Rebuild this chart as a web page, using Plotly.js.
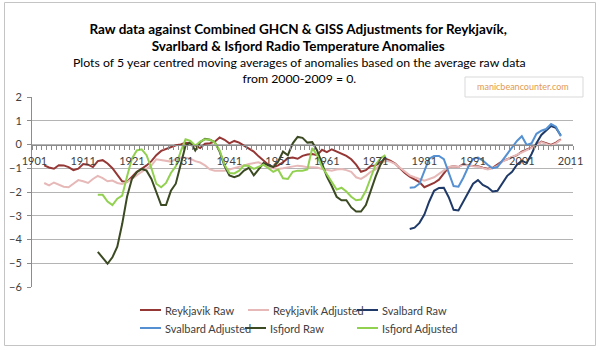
<!DOCTYPE html>
<html>
<head>
<meta charset="utf-8">
<script src="https://cdn.plot.ly/plotly-3.0.1.min.js"></script>
<style>html,body{margin:0;padding:0;background:#fff}#chart{width:600px;height:350px}</style>
</head>
<body>
<div id="chart"></div>
<script>
const years = [1901,1902,1903,1904,1905,1906,1907,1908,1909,1910,
1911,1912,1913,1914,1915,1916,1917,1918,1919,1920,
1921,1922,1923,1924,1925,1926,1927,1928,1929,1930,
1931,1932,1933,1934,1935,1936,1937,1938,1939,1940,
1941,1942,1943,1944,1945,1946,1947,1948,1949,1950,
1951,1952,1953,1954,1955,1956,1957,1958,1959,1960,
1961,1962,1963,1964,1965,1966,1967,1968,1969,1970,
1971,1972,1973,1974,1975,1976,1977,1978,1979,1980,
1981,1982,1983,1984,1985,1986,1987,1988,1989,1990,
1991,1992,1993,1994,1995,1996,1997,1998,1999,2000,
2001,2002,2003,2004,2005,2006,2007,2008,2009,2010,
2011];

const reykjavikRaw = [null,null,-0.88,-0.97,-1.02,-0.87,-0.88,-0.95,-1.08,-1.02,
-0.82,-0.85,-0.95,-0.70,-0.66,-0.80,-1.00,-1.30,-1.55,-1.58,
-1.38,-1.15,-1.02,-0.88,-0.70,-0.45,-0.27,-0.20,-0.12,-0.03,
0.00,0.07,0.05,-0.05,-0.15,0.03,0.05,0.12,0.30,0.20,
0.05,0.15,0.08,-0.05,-0.18,-0.30,-0.50,-0.68,-0.85,-0.95,
-0.88,-0.75,-0.58,-0.55,-0.60,-0.48,-0.42,-0.40,-0.45,-0.22,
-0.32,-0.20,-0.30,-0.40,-0.48,-0.62,-0.85,-1.15,-1.08,-0.90,
-0.88,-0.75,-0.60,-0.68,-0.80,-1.00,-1.20,-1.35,-1.45,-1.58,
-1.80,-1.72,-1.62,-1.48,-1.22,-0.95,-0.92,-0.95,-0.82,-0.88,
-0.90,-0.92,-0.98,-1.02,-0.98,-0.85,-0.70,-0.62,-0.55,-0.45,
-0.30,-0.22,-0.12,-0.02,0.12,0.05,-0.02,0.08,0.22,null,
null];

const reykjavikAdjusted = [null,null,-1.62,-1.72,-1.60,-1.68,-1.78,-1.80,-1.66,-1.50,
-1.55,-1.62,-1.45,-1.32,-1.42,-1.55,-1.52,-1.62,-1.66,-1.58,
-1.45,-1.28,-1.15,-1.02,-0.88,-0.62,-0.65,-0.70,-0.72,-0.62,
-0.55,-0.56,-0.60,-0.70,-0.76,-0.88,-1.05,-1.10,-1.10,-1.10,
-1.05,-1.00,-0.96,-0.88,-0.82,-0.78,-0.75,-0.85,-0.96,-1.00,
-1.03,-1.00,-0.96,-0.92,-0.89,-0.92,-0.96,-0.96,-0.97,-1.03,
-1.06,-1.10,-1.05,-1.03,-1.08,-1.15,-1.38,-1.45,-1.32,-1.15,
-1.05,-0.82,-0.68,-0.72,-0.82,-0.98,-1.15,-1.30,-1.38,-1.45,
-1.52,-1.45,-1.38,-1.24,-1.08,-0.95,-0.92,-0.95,-0.85,-0.90,
-0.92,-0.94,-1.00,-1.05,-1.00,-0.90,-0.72,-0.62,-0.55,-0.45,
-0.32,-0.25,-0.15,-0.05,0.10,0.02,-0.05,0.05,0.20,null,
null];

const svalbardRaw = [null,null,null,null,null,null,null,null,null,null,
null,null,null,null,null,null,null,null,null,null,
null,null,null,null,null,null,null,null,null,null,
null,null,null,null,null,null,null,null,null,null,
null,null,null,null,null,null,null,null,null,null,
null,null,null,null,null,null,null,null,null,null,
null,null,null,null,null,null,null,null,null,null,
null,null,null,null,null,null,null,-3.56,-3.50,-3.30,
-2.95,-2.40,-1.95,-1.83,-1.82,-2.22,-2.75,-2.78,-2.40,-2.05,
-1.65,-1.50,-1.70,-1.80,-1.98,-1.95,-1.62,-1.32,-1.15,-0.85,
-0.68,-0.78,-0.40,0.05,0.40,0.60,0.78,0.70,0.38,null,
null];

const svalbardAdjusted = [null,null,null,null,null,null,null,null,null,null,
null,null,null,null,null,null,null,null,null,null,
null,null,null,null,null,null,null,null,null,null,
null,null,null,null,null,null,null,null,null,null,
null,null,null,null,null,null,null,null,null,null,
null,null,null,null,null,null,null,null,null,null,
null,null,null,null,null,null,null,null,null,null,
null,null,null,null,null,null,null,-1.82,-1.80,-1.65,
-1.15,-0.60,-0.48,-0.48,-0.62,-1.20,-1.75,-1.78,-1.40,-0.95,
-0.60,-0.55,-0.68,-0.85,-1.00,-0.95,-0.68,-0.38,-0.10,0.15,
0.35,-0.02,0.05,0.45,0.58,0.65,0.86,0.75,0.35,null,
null];

const isfjordRaw = [null,null,null,null,null,null,null,null,null,null,
null,null,null,-4.52,-4.75,-5.02,-4.75,-4.30,-3.35,-2.20,
-1.45,-1.17,-1.03,-1.10,-1.45,-2.00,-2.55,-2.55,-1.95,-1.65,
-0.80,-0.05,0.10,-0.25,0.10,0.24,0.20,0.10,-0.30,-0.90,
-1.30,-1.38,-1.30,-1.10,-0.98,-1.30,-1.05,-0.78,-0.88,-0.95,
-0.72,-0.30,-0.45,0.05,0.32,0.28,0.08,0.10,-0.25,-0.80,
-1.35,-1.75,-2.20,-2.35,-2.35,-2.65,-2.82,-2.82,-2.55,-1.95,
-1.35,-0.85,-0.50,null,null,null,null,null,null,null,
null,null,null,null,null,null,null,null,null,null,
null,null,null,null,null,null,null,null,null,null,
null,null,null,null,null,null,null,null,null,null,
null];

const isfjordAdjusted = [null,null,null,null,null,null,null,null,null,null,
null,null,null,-2.12,-2.12,-2.40,-2.55,-2.28,-2.15,-1.35,
-0.60,-0.25,-0.20,-0.45,-1.00,-1.65,-1.80,-1.62,-1.20,-0.92,
-0.30,0.22,0.15,-0.05,0.12,0.22,0.20,0.08,-0.25,-0.85,
-1.20,-1.22,-1.10,-0.88,-0.90,-1.03,-0.95,-0.85,-1.00,-1.15,
-1.05,-1.42,-1.45,-1.15,-1.10,-1.10,-1.05,-0.15,-0.45,-0.95,
-1.25,-1.55,-1.90,-1.82,-1.98,-2.20,-2.35,-2.32,-1.95,-1.40,
-0.85,-0.58,-0.45,null,null,null,null,null,null,null,
null,null,null,null,null,null,null,null,null,null,
null,null,null,null,null,null,null,null,null,null,
null,null,null,null,null,null,null,null,null,null,
null];

const seriesNames = ["Reykjavik Raw","Reykjavik Adjusted","Svalbard Raw","Svalbard Adjusted","Isfjord Raw","Isfjord Adjusted"];
const seriesValues = [reykjavikRaw, reykjavikAdjusted, svalbardRaw, svalbardAdjusted, isfjordRaw, isfjordAdjusted];
const seriesColors = ["#953735","#E6B9B8","#1F3A68","#5591D2","#3B4A22","#92D050"];

const xTickVals = [1901,1911,1921,1931,1941,1951,1961,1971,1981,1991,2001,2011];
const xTickText = ["1901","1911","1921","1931","1941","1951","1961","1971","1981","1991","2001","2011"];

const FONT = "Lato, 'Open Sans', sans-serif";

const traces = seriesValues.map((v, i) => ({
  type: "scatter", mode: "lines", name: seriesNames[i],
  x: years, y: v, connectgaps: false,
  line: {color: seriesColors[i], width: 2},
  showlegend: false, hoverinfo: "skip"
}));

// pixel -> paper helpers for decorations (plot area 32..573 x 97..287)
const PX = p => (p - 32) / 541;
const PY = p => (287 - p) / 190;

const shapes = [];
const annotations = [];

// outer border
shapes.push({type:"rect", xref:"paper", yref:"paper", x0:PX(4.5), x1:PX(595.5), y0:PY(345.5), y1:PY(2.5),
  line:{color:"#c4c4c4", width:1}, fillcolor:"rgba(0,0,0,0)", layer:"below"});

// watermark box
shapes.push({type:"rect", xref:"paper", yref:"paper", x0:PX(465), x1:PX(583), y0:PY(97), y1:PY(77),
  line:{color:"#d9d9d9", width:1}, fillcolor:"#ffffff", layer:"above"});
annotations.push({xref:"paper", yref:"paper", x:PX(475), y:PY(86.5), xanchor:"left", yanchor:"middle",
  text:"manicbeancounter.com", showarrow:false, font:{family:FONT, size:9, color:"#E39A4E"}});

// subtitle
annotations.push({xref:"paper", yref:"paper", x:PX(299), y:PY(70.5), xanchor:"center", yanchor:"middle",
  text:"Plots of 5 year centred moving averages of anomalies based on the average raw data<br>from 2000-2009 = 0.",
  showarrow:false, font:{family:FONT, size:12.3, color:"#000"}});

// legend (manual)
const legendPos = [[140,310],[248,310],[357,310],[140,328],[245,328],[357,328]];
seriesNames.forEach((n, i) => {
  const [lx, ly] = legendPos[i];
  shapes.push({type:"line", xref:"paper", yref:"paper", x0:PX(lx), x1:PX(lx+21), y0:PY(ly), y1:PY(ly),
    line:{color:seriesColors[i], width:2}});
  annotations.push({xref:"paper", yref:"paper", x:PX(lx+23), y:PY(ly), xanchor:"left", yanchor:"middle",
    text:n, showarrow:false, font:{family:FONT, size:11, color:"#404040"}});
});

const layout = {
  width:600, height:350,
  margin:{l:32, r:27, t:97, b:63},
  paper_bgcolor:"#fff", plot_bgcolor:"#fff",
  font:{family:FONT, size:11, color:"#404040"},
  title:{
    text:"<b>Raw data against Combined GHCN &amp; GISS Adjustments for Reykjavík,<br>Svarlbard &amp; Isfjord Radio Temperature Anomalies</b>",
    font:{family:FONT, size:13.5, color:"#000"},
    x:0.497, xref:"container", xanchor:"center",
    y:1 - 33.5/350, yref:"container", yanchor:"middle"
  },
  xaxis:{
    range:[1900.5, 2011.5], anchor:"free", position:0.75,
    tickmode:"array", tickvals:xTickVals, ticktext:xTickText,
    ticks:"", showline:true, linecolor:"#8c8c8c", linewidth:1,
    showgrid:false, zeroline:false, ticklabelstandoff:6,
    tickfont:{family:FONT, size:11, color:"#404040"},
    minor:{tickmode:"linear", tick0:0.5, dtick:1, ticks:"outside", ticklen:4, tickcolor:"#8c8c8c", showgrid:false}
  },
  yaxis:{
    range:[-6, 2], tickmode:"linear", tick0:-6, dtick:1,
    showgrid:true, gridcolor:"#b4b4b4", gridwidth:1, zeroline:false,
    showline:true, linecolor:"#8c8c8c", linewidth:1,
    ticks:"outside", ticklen:4, tickcolor:"#8c8c8c", ticklabelstandoff:3,
    tickfont:{family:FONT, size:11, color:"#404040"}
  },
  shapes:shapes, annotations:annotations, showlegend:false
};

Plotly.newPlot("chart", traces, layout, {displayModeBar:false, staticPlot:true});
</script>
</body>
</html>
